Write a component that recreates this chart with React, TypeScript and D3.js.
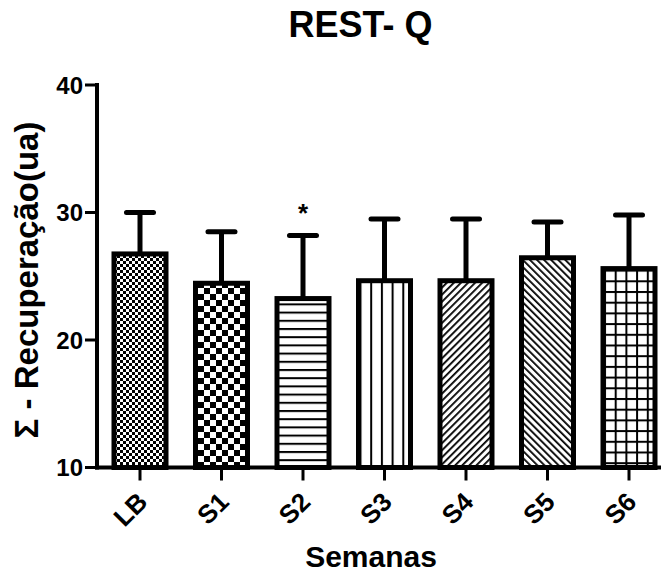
import React from "react";
import * as d3 from "d3";

const categories = ["LB", "S1", "S2", "S3", "S4", "S5", "S6"];
const means = [26.75, 24.45, 23.25, 24.65, 24.65, 26.45, 25.6];
const sds = [3.25, 4.05, 4.95, 4.85, 4.85, 2.8, 4.2];
const yTicks = [10, 20, 30, 40];
const significant = ["S2"];
const title = "REST- Q";
const yLabel = "Σ - Recuperação(ua)";
const xLabel = "Semanas";

const W = 661;
const H = 573;
const FONT = "'Liberation Sans', Arial, Helvetica, sans-serif";

export default function App() {
  const x = d3
    .scaleBand<string>()
    .domain(categories)
    .range([97, 672])
    .paddingInner(0.362)
    .paddingOuter(0.2086);
  const y = d3.scaleLinear().domain([10, 40]).range([467.5, 85]);
  const bw = x.bandwidth();
  const base = y(10);

  const patterns = [
    <pattern key="p0" id="p0" patternUnits="userSpaceOnUse" width={6} height={6}>
      <rect width={6} height={6} fill="#fff" />
      <rect x={0} y={0} width={3} height={3} fill="#000" />
      <rect x={3} y={3} width={3} height={3} fill="#000" />
    </pattern>,
    <pattern key="p1" id="p1" patternUnits="userSpaceOnUse" width={12} height={12}>
      <rect width={12} height={12} fill="#fff" />
      <rect x={0} y={0} width={6} height={6} fill="#000" />
      <rect x={6} y={6} width={6} height={6} fill="#000" />
    </pattern>,
    <pattern key="p2" id="p2" patternUnits="userSpaceOnUse" width={8} height={8.2}>
      <rect width={8} height={8.2} fill="#fff" />
      <rect x={0} y={0} width={8} height={2} fill="#000" />
    </pattern>,
    <pattern key="p3" id="p3" patternUnits="userSpaceOnUse" width={10.7} height={8} x={x("S3")! + 1}>
      <rect width={10.7} height={8} fill="#fff" />
      <rect x={0} y={0} width={2} height={8} fill="#000" />
    </pattern>,
    <pattern key="p4" id="p4" patternUnits="userSpaceOnUse" width={5} height={5} patternTransform="rotate(45)">
      <rect width={5} height={5} fill="#fff" />
      <rect x={0} y={0} width={1.8} height={5} fill="#000" />
    </pattern>,
    <pattern key="p5" id="p5" patternUnits="userSpaceOnUse" width={5} height={5} patternTransform="rotate(-45)">
      <rect width={5} height={5} fill="#fff" />
      <rect x={0} y={0} width={1.8} height={5} fill="#000" />
    </pattern>,
    <pattern key="p6" id="p6" patternUnits="userSpaceOnUse" width={10.7} height={10.7} x={x("S6")! + 1} y={y(means[6]) + 1}>
      <rect width={10.7} height={10.7} fill="#fff" />
      <rect x={0} y={0} width={2} height={10.7} fill="#000" />
      <rect x={0} y={0} width={10.7} height={2} fill="#000" />
    </pattern>,
  ];

  return (
    <svg
      width={W}
      height={H}
      style={{ position: "absolute", left: 0, top: 0, background: "#fff" }}
      fontFamily={FONT}
    >
      <defs>{patterns}</defs>
      <rect width={W} height={H} fill="#fff" />

      {/* title */}
      <text x={360.5} y={37} textAnchor="middle" fontSize={36} fontWeight="bold">
        {title}
      </text>

      {/* bars */}
      {categories.map((c, i) => {
        const x0 = x(c)!;
        const cx = x0 + bw / 2;
        const top = y(means[i]);
        const err = y(means[i] + sds[i]);
        return (
          <g key={c}>
            <line x1={cx} x2={cx} y1={top} y2={err} stroke="#000" strokeWidth={5} />
            <line x1={cx - 13.5} x2={cx + 13.5} y1={err} y2={err} stroke="#000" strokeWidth={5} strokeLinecap="round" />
            <rect
              x={x0}
              y={top}
              width={bw}
              height={base - top}
              fill={`url(#p${i})`}
              stroke="#000"
              strokeWidth={5}
            />
            {significant.includes(c) && (
              <text x={cx} y={err - 13} textAnchor="middle" fontSize={26} fontWeight="bold">
                *
              </text>
            )}
          </g>
        );
      })}

      {/* y axis */}
      <line x1={97} x2={97} y1={y(40) - 2} y2={base + 2} stroke="#000" strokeWidth={4} />
      {yTicks.map((t) => (
        <g key={t}>
          <line x1={85} x2={97} y1={y(t)} y2={y(t)} stroke="#000" strokeWidth={3} />
          <text x={83} y={y(t)} dy="0.36em" textAnchor="end" fontSize={24} fontWeight="bold">
            {t}
          </text>
        </g>
      ))}

      {/* x axis */}
      <line x1={95} x2={W} y1={base} y2={base} stroke="#000" strokeWidth={4} />
      {categories.map((c) => {
        const cx = x(c)! + bw / 2;
        return (
          <g key={c}>
            <line x1={cx} x2={cx} y1={base} y2={base + 13} stroke="#000" strokeWidth={3} />
            <text
              transform={`translate(${cx + 9},${base + 36}) rotate(-45)`}
              textAnchor="end"
              fontSize={26}
              fontWeight="bold"
            >
              {c}
            </text>
          </g>
        );
      })}

      {/* axis labels */}
      <text x={371} y={567} textAnchor="middle" fontSize={30} fontWeight="bold">
        {xLabel}
      </text>
      <text
        transform={`translate(38,280) rotate(-90)`}
        textAnchor="middle"
        fontSize={33}
        fontWeight="bold"
      >
        {yLabel}
      </text>
    </svg>
  );
}
